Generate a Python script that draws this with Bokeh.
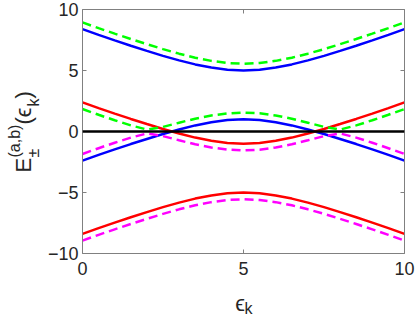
import math
from bokeh.plotting import figure
from bokeh.layouts import row, column
from bokeh.models import Range1d, LinearAxis, Span, Label, FixedTicker
from bokeh.embed import file_html
from bokeh.resources import INLINE

# ---------------- data ----------------
eps_k = [0, 0.5, 1, 1.5, 2, 2.5, 3, 3.5, 4, 4.5, 5,
         5.5, 6, 6.5, 7, 7.5, 8, 8.5, 9, 9.5, 10]

blue_upper = [8.39, 7.92, 7.47, 7.03, 6.61, 6.20, 5.83, 5.50, 5.24, 5.06, 5.00,
              5.06, 5.24, 5.50, 5.83, 6.20, 6.61, 7.03, 7.47, 7.92, 8.39]
blue_middle = [-2.39, -1.92, -1.47, -1.03, -0.61, -0.20, 0.17, 0.50, 0.76, 0.94, 1.00,
               0.94, 0.76, 0.50, 0.17, -0.20, -0.61, -1.03, -1.47, -1.92, -2.39]
red_middle = [2.39, 1.92, 1.47, 1.03, 0.61, 0.20, -0.17, -0.50, -0.76, -0.94, -1.00,
              -0.94, -0.76, -0.50, -0.17, 0.20, 0.61, 1.03, 1.47, 1.92, 2.39]
red_lower = [-8.39, -7.92, -7.47, -7.03, -6.61, -6.20, -5.83, -5.50, -5.24, -5.06, -5.00,
             -5.06, -5.24, -5.50, -5.83, -6.20, -6.61, -7.03, -7.47, -7.92, -8.39]
green_upper = [8.94, 8.47, 8.02, 7.58, 7.16, 6.75, 6.38, 6.05, 5.79, 5.61, 5.55,
               5.61, 5.79, 6.05, 6.38, 6.75, 7.16, 7.58, 8.02, 8.47, 8.94]
green_middle = [1.84, 1.37, 0.92, 0.50, 0.16, 0.38, 0.72, 1.05, 1.31, 1.49, 1.55,
                1.49, 1.31, 1.05, 0.72, 0.38, 0.16, 0.50, 0.92, 1.37, 1.84]
magenta_middle = [-1.84, -1.37, -0.92, -0.50, -0.16, -0.38, -0.72, -1.05, -1.31, -1.49, -1.55,
                  -1.49, -1.31, -1.05, -0.72, -0.38, -0.16, -0.50, -0.92, -1.37, -1.84]
magenta_lower = [-8.94, -8.47, -8.02, -7.58, -7.16, -6.75, -6.38, -6.05, -5.79, -5.61, -5.55,
                 -5.61, -5.79, -6.05, -6.38, -6.75, -7.16, -7.58, -8.02, -8.47, -8.94]

x_ticks = [0, 5, 10]
y_ticks = [-10, -5, 0, 5, 10]

# ---------------- layout ----------------
FONT = "Liberation Sans"
TXT = "#262626"
AX = "#808080"

YLAB_W = 44
MAIN_W, MAIN_H = 371, 284
XLAB_H = 32
BL, BR, BT, BB = 33, 11, 9, 31   # borders of the main plot frame


def bare(width, height, x_range):
    f = figure(width=width, height=height, output_backend="svg", toolbar_location=None,
               title_location=None, sizing_mode="fixed",
               x_range=x_range, y_range=Range1d(0, height),
               x_axis_type=None, y_axis_type=None,
               min_border_left=0, min_border_right=0, min_border_top=0, min_border_bottom=0)
    f.xgrid.visible = False
    f.ygrid.visible = False
    f.outline_line_color = None
    f.background_fill_color = "white"
    f.border_fill_color = "white"
    return f


p = figure(width=MAIN_W, height=MAIN_H, output_backend="svg", toolbar_location=None,
           title_location=None, sizing_mode="fixed",
           x_range=Range1d(0, 10), y_range=Range1d(-10, 10),
           min_border_left=BL, min_border_right=BR,
           min_border_top=BT, min_border_bottom=BB)
p.xgrid.visible = False
p.ygrid.visible = False
p.outline_line_color = None
p.background_fill_color = "white"
p.border_fill_color = "white"

bottom_ax = p.below[0]
left_ax = p.left[0]
top_ax = LinearAxis()
right_ax = LinearAxis()
p.add_layout(top_ax, "above")
p.add_layout(right_ax, "right")

for ax, ticks in [(bottom_ax, x_ticks), (top_ax, x_ticks),
                  (left_ax, y_ticks), (right_ax, y_ticks)]:
    ax.ticker = FixedTicker(ticks=ticks)
    ax.axis_line_color = AX
    ax.axis_line_width = 1
    ax.major_tick_line_color = AX
    ax.major_tick_in = 4
    ax.major_tick_out = 0
    ax.minor_tick_line_color = None
    ax.major_label_text_font = FONT
    ax.major_label_text_color = TXT
    ax.major_label_text_font_size = "18px"

for ax, ticks in [(top_ax, x_ticks), (right_ax, y_ticks)]:
    ax.major_label_overrides = {t: "" for t in ticks}
    ax.major_label_text_font_size = "1px"
    ax.major_label_standoff = 0

bottom_ax.major_label_standoff = 8
left_ax.major_label_standoff = 4

# zero line
p.add_layout(Span(location=0, dimension="width", line_color="black", line_width=2.5))

LW = 2.5
DASH = "9 5"
p.line(eps_k, blue_upper, line_color="#0000ff", line_width=LW)
p.line(eps_k, blue_middle, line_color="#0000ff", line_width=LW)
p.line(eps_k, red_middle, line_color="#ff0000", line_width=LW)
p.line(eps_k, red_lower, line_color="#ff0000", line_width=LW)
p.line(eps_k, green_upper, line_color="#00ff00", line_width=LW, line_dash=DASH)
p.line(eps_k, green_middle, line_color="#00ff00", line_width=LW, line_dash=DASH)
p.line(eps_k, magenta_middle, line_color="#ff00ff", line_width=LW, line_dash=DASH)
p.line(eps_k, magenta_lower, line_color="#ff00ff", line_width=LW, line_dash=DASH)


def lab(fig, h, text, x, cy, size, angle=0.0):
    # x in the figure's x units, cy: canvas pixels from the figure's top
    fig.add_layout(Label(x=x, y=h - cy, text=text, angle=angle,
                         text_font=FONT, text_font_size=f"{size}px",
                         text_color=TXT, text_align="left",
                         text_baseline="alphabetic"))


MAIN_SZ, SMALL_SZ = 22, 16

# y-axis label  E_{\pm}^{(a,b)}(\epsilon_k), rotated (reads bottom to top)
ylab = bare(YLAB_W, MAIN_H, Range1d(0, YLAB_W))
R = math.pi / 2
lab(ylab, MAIN_H, "E", 23, 172, MAIN_SZ, R)
lab(ylab, MAIN_H, "(a,b)", 14, 157, SMALL_SZ, R)
lab(ylab, MAIN_H, "\u00b1", 33, 157, SMALL_SZ, R)
lab(ylab, MAIN_H, "(\u03f5", 23, 124, MAIN_SZ, R)
lab(ylab, MAIN_H, "k", 33, 106, SMALL_SZ, R)
lab(ylab, MAIN_H, ")", 23, 98, MAIN_SZ, R)

# x-axis label  \epsilon_k  (its frame lines up with the main frame, so use eps_k units)
xlab = bare(MAIN_W, XLAB_H, Range1d(0, 10))
lab(xlab, XLAB_H, "\u03f5", 4.74, 19, MAIN_SZ)
lab(xlab, XLAB_H, "k", 5.03, 24, SMALL_SZ)

layout = row(ylab, column(p, xlab, spacing=0, sizing_mode="fixed"), spacing=0,
             sizing_mode="fixed")

open("out.html", "w").write(file_html(layout, INLINE))
